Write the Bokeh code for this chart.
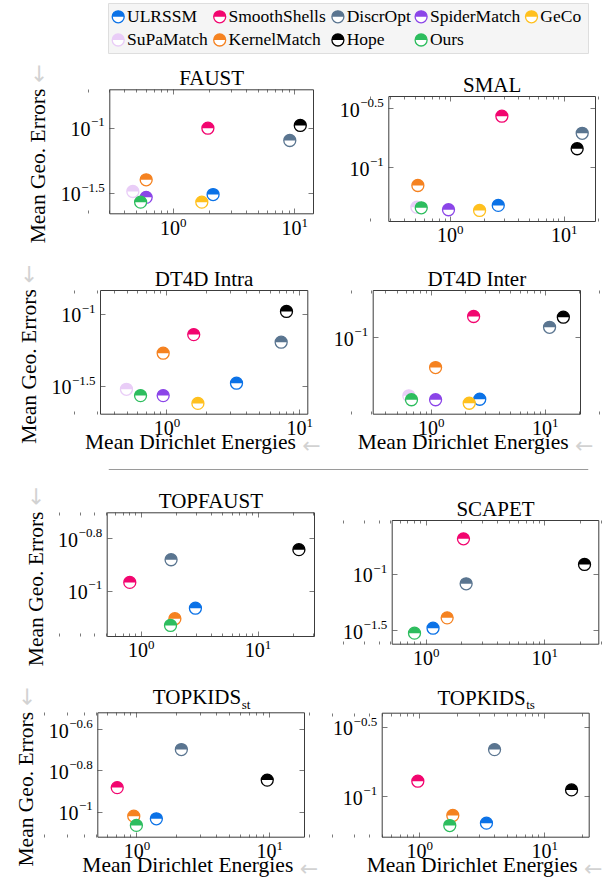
import math
from bokeh.plotting import figure
from bokeh.models import (Range1d, LogAxis, FixedTicker, Label, Span, BoxAnnotation,
                          CustomJSTickFormatter)
from bokeh.layouts import column, row
from bokeh.embed import file_html
from bokeh.resources import INLINE

FONT = "Liberation Serif"
ARROW_FONT = "DejaVu Sans"
FRAME = "#3c3c3c"
TICK = "#7a7a7a"
ARROW = "#d2d2d2"
BASE_FIX = 0.4  # em shift so that the anchor is the alphabetic baseline

# ---------------- data ----------------
methods = ["ULRSSM", "SmoothShells", "DiscrOpt", "SpiderMatch", "GeCo",
           "SuPaMatch", "KernelMatch", "Hope", "Ours"]
method_colors = ["#0B72E7", "#F2056F", "#5A7590", "#8B45E8", "#FFC01E",
                 "#E9CDF7", "#F58220", "#000000", "#2DBD5E"]
top_methods = ["ULRSSM", "SmoothShells", "DiscrOpt", "KernelMatch", "Hope", "Ours"]

faust_energy = [2.13, 1.93, 9.10, 0.60, 1.72, 0.466, 0.60, 11.1, 0.54]
faust_error = [0.0309, 0.100, 0.0804, 0.0294, 0.0270, 0.0326, 0.0401, 0.105, 0.0270]

smal_energy = [2.64, 2.84, 14.4, 0.966, 1.81, 0.51, 0.52, 13.0, 0.557]
smal_error = [0.0480, 0.2735, 0.196, 0.0441, 0.0435, 0.0463, 0.0708, 0.145, 0.0458]

dt4d_intra_energy = [3.34, 1.59, 7.25, 0.936, 1.71, 0.495, 0.936, 7.95, 0.632]
dt4d_intra_error = [0.0332, 0.0724, 0.0641, 0.0272, 0.0240, 0.0301, 0.0537, 0.105, 0.0272]

dt4d_inter_energy = [2.66, 2.35, 10.9, 1.09, 2.15, 0.635, 1.09, 14.4, 0.67]
dt4d_inter_error = [0.0413, 0.136, 0.1164, 0.0410, 0.0390, 0.0434, 0.0652, 0.1346, 0.0410]

topfaust_energy = [2.91, 0.797, 1.80, 1.94, 22.4, 1.78]
topfaust_error = [0.0861, 0.108, 0.1318, 0.0785, 0.144, 0.0740]

scapet_energy = [1.14, 2.06, 2.17, 1.50, 21.7, 0.795]
scapet_error = [0.0332, 0.206, 0.0822, 0.0410, 0.122, 0.0300]

topkids_st_energy = [1.40, 0.71, 2.16, 0.946, 9.58, 0.99]
topkids_st_error = [0.0929, 0.1315, 0.201, 0.0957, 0.143, 0.0863]

topkids_ts_energy = [3.42, 0.966, 3.97, 1.84, 16.4, 1.74]
topkids_ts_error = [0.0643, 0.129, 0.218, 0.0730, 0.1117, 0.0618]

x_tick_exponents = [0, 1]
y_label_text = "Mean Geo. Errors"
x_label_text = "Mean Dirichlet Energies"

color_of = dict(zip(methods, method_colors))

# approximate advance widths (em) of Liberation Serif
CW = {"\u2212": 0.564, ".": 0.25, " ": 0.25, "M": 0.889, "e": 0.444, "a": 0.444,
      "n": 0.5, "G": 0.722, "o": 0.5, "E": 0.611, "r": 0.333, "s": 0.389, "D": 0.722,
      "i": 0.278, "c": 0.444, "h": 0.5, "l": 0.278, "t": 0.278, "g": 0.5}


def text_w(s, px):
    return sum(CW.get(ch, 0.5) for ch in s) * px


def exp_str(e):
    s = ("%g" % abs(e))
    return ("\u2212" + s) if e < 0 else s


def add_label(p, text, x, y, fs, xu="screen", yu="screen", align="left",
              color="#000000", rotated=False, xo=0.0, yo=0.0, font=FONT):
    fix = BASE_FIX * fs
    if rotated:
        xo -= fix
    else:
        yo += fix
    p.add_layout(Label(x=x, y=y, x_units=xu, y_units=yu, text=text,
                       text_font=font, text_font_size="%gpx" % fs, text_align=align,
                       text_baseline="alphabetic", text_color=color,
                       angle=(math.pi / 2 if rotated else 0.0),
                       x_offset=xo, y_offset=yo))


minor_x = [k * 10.0 ** d for d in (-1, 0, 1) for k in range(2, 10)]
blank = CustomJSTickFormatter(code="return ''")


def style_axis(ax):
    ax.axis_line_color = None
    ax.major_tick_in = 5
    ax.major_tick_out = 0
    ax.minor_tick_in = 3
    ax.minor_tick_out = 0
    ax.major_tick_line_color = TICK
    ax.minor_tick_line_color = TICK
    ax.formatter = blank
    ax.major_label_standoff = 0


LAB_FS = 21.5
ARR_FS = 22


def panel(spec):
    ox, oy, w, h = spec["fig"]
    l, t, r, b = spec["frame"]
    xlo, xhi = spec["xlim"]
    ylo, yhi = spec["ylim"]
    kx = (xhi - xlo) / (r - l)
    ky = (yhi - ylo) / (b - t)
    X0 = xlo - (l - ox) * kx
    X1 = xhi + (ox + w - r) * kx
    Y0 = ylo - (oy + h - b) * ky
    Y1 = yhi + (t - oy) * ky
    p = figure(width=w, height=h, x_axis_type="log", y_axis_type="log",
               x_range=Range1d(10 ** X0, 10 ** X1), y_range=Range1d(10 ** Y0, 10 ** Y1),
               x_axis_location=None, y_axis_location=None, min_border=0,
               output_backend="svg", toolbar_location=None)
    p.grid.visible = False
    p.outline_line_color = None
    p.background_fill_color = "white"
    p.border_fill_color = "white"

    def sx(px):
        return px - ox

    def sy(py):
        return oy + h - py

    xt = FixedTicker(ticks=[10.0 ** e for e in x_tick_exponents], minor_ticks=minor_x)
    yt = FixedTicker(ticks=[10.0 ** e for e in spec["yticks"]], minor_ticks=[])
    for loc, fl in (("below", 10 ** ylo), ("above", 10 ** yhi)):
        ax = LogAxis(ticker=xt, fixed_location=fl)
        style_axis(ax)
        p.add_layout(ax, loc)
    for loc, fl in (("left", 10 ** xlo), ("right", 10 ** xhi)):
        ax = LogAxis(ticker=yt, fixed_location=fl)
        style_axis(ax)
        p.add_layout(ax, loc)
    p.add_layout(BoxAnnotation(left=10 ** xlo, right=10 ** xhi, bottom=10 ** ylo,
                               top=10 ** yhi, fill_color=None, fill_alpha=0,
                               line_color=FRAME, line_width=1, line_alpha=1.0))

    # markers: top half coloured, bottom half white
    for m, xv, yv in zip(spec["methods"], spec["energy"], spec["error"]):
        c = color_of[m]
        p.scatter(x=[xv], y=[yv], size=12, marker="circle", fill_color="white",
                  line_color=c, line_width=1.3)
        p.wedge(x=[xv], y=[yv], radius=6, radius_units="screen", start_angle=0,
                end_angle=math.pi, fill_color=c, line_color=None)

    # x tick labels 10^k
    for e in x_tick_exponents:
        v = 10.0 ** e
        if 10 ** xlo <= v <= 10 ** xhi:
            sup = exp_str(e)
            ws = text_w(sup, 13)
            shift = (20 + ws) / 2 - ws
            add_label(p, "10", v, sy(b + 21.7), 20, xu="data", align="right", xo=shift)
            add_label(p, sup, v, sy(b + 14.0), 13, xu="data", align="left", xo=shift)
    # y tick labels
    for e in spec["yticks"]:
        v = 10.0 ** e
        sup = exp_str(e)
        ws = text_w(sup, 13)
        add_label(p, sup, sx(l - 5), v, 13, yu="data", align="right", yo=0.5)
        add_label(p, "10", sx(l - 5 - ws - 0.5), v, 20, yu="data", align="right", yo=-9)

    # title
    cx = (l + r) / 2
    if spec.get("sub"):
        add_label(p, spec["title"], sx(cx + 40), sy(t - 7), 21, align="right")
        add_label(p, spec["sub"], sx(cx + 40.5), sy(t - 3.5), 13, align="left")
    else:
        add_label(p, spec["title"], sx(cx), sy(t - 3), 21, align="center")

    if spec.get("ylabel"):
        start = (t + b) / 2 + 91.5
        tl = text_w(y_label_text, LAB_FS)
        add_label(p, y_label_text, sx(l - 63), sy(start), LAB_FS, align="left", rotated=True)
        add_label(p, "\u2190", sx(l - 63), sy(start - tl - 6), ARR_FS, align="left",
                  rotated=True, color=ARROW, font=ARROW_FONT)
    if spec.get("xlabel"):
        x0 = l - 15.5
        base = b + 36.7
        tl = text_w(x_label_text, LAB_FS)
        add_label(p, x_label_text, sx(x0), sy(base), LAB_FS, align="left")
        add_label(p, "\u2190", sx(x0 + tl + 6), sy(base + 3), ARR_FS, align="left",
                  color=ARROW, font=ARROW_FONT)
    return p


specs = [
    dict(title="FAUST", methods=methods, energy=faust_energy, error=faust_error,
         yticks=[-1.0, -1.5], fig=(0, 60, 322, 192), frame=(109.3, 89.3, 313, 213.3),
         xlim=(-0.521, 1.154), ylim=(-1.658, -0.705), ylabel=True),
    dict(title="SMAL", methods=methods, energy=smal_energy, error=smal_error,
         yticks=[-0.5, -1.0], fig=(322, 60, 282, 192), frame=(388.3, 96, 595, 221),
         xlim=(-0.539, 1.275), ylim=(-1.455, -0.396)),
    dict(title="DT4D Intra", methods=methods, energy=dt4d_intra_energy, error=dt4d_intra_error,
         yticks=[-1.0, -1.5], fig=(0, 252, 322, 210), frame=(100, 290, 307.3, 413.7),
         xlim=(-0.501, 1.061), ylim=(-1.695, -0.833), ylabel=True, xlabel=True),
    dict(title="DT4D Inter", methods=methods, energy=dt4d_inter_energy, error=dt4d_inter_error,
         yticks=[-1.0], fig=(322, 252, 282, 210), frame=(372.7, 290, 580, 413.7),
         xlim=(-0.51, 1.309), ylim=(-1.4775, -0.704), xlabel=True),
    dict(title="TOPFAUST", methods=top_methods, energy=topfaust_energy, error=topfaust_error,
         yticks=[-0.8, -1.0], fig=(0, 478, 322, 190), frame=(106.7, 512.3, 314, 636),
         xlim=(-0.292, 1.484), ylim=(-1.173, -0.701), ylabel=True),
    dict(title="SCAPET", methods=top_methods, energy=scapet_energy, error=scapet_error,
         yticks=[-1.0, -1.5], fig=(322, 478, 282, 190), frame=(391.7, 520, 598.3, 643.7),
         xlim=(-0.288, 1.457), ylim=(-1.621, -0.5235)),
    dict(title="TOPKIDS", sub="st", methods=top_methods, energy=topkids_st_energy,
         error=topkids_st_error, yticks=[-0.6, -0.8, -1.0], fig=(0, 668, 322, 216),
         frame=(97.3, 712.3, 304, 836.7), xlim=(-0.295, 1.262), ylim=(-1.121, -0.519),
         ylabel=True, xlabel=True),
    dict(title="TOPKIDS", sub="ts", methods=top_methods, energy=topkids_ts_energy,
         error=topkids_ts_error, yticks=[-0.5, -1.0], fig=(322, 668, 282, 216),
         frame=(381.7, 712.7, 588.7, 836.7), xlim=(-0.3, 1.356), ylim=(-1.293, -0.399),
         xlabel=True),
]

figs = [panel(s) for s in specs]

# ---------------- legend ----------------
leg = figure(width=604, height=60, x_range=Range1d(108, 588), y_range=Range1d(-53, -3),
             min_border_left=108, min_border_right=16, min_border_top=3, min_border_bottom=7,
             x_axis_type=None, y_axis_type=None, output_backend="svg", toolbar_location=None)
leg.grid.visible = False
leg.background_fill_color = "#f5f5f5"
leg.border_fill_color = "white"
leg.outline_line_color = "#dedede"
leg_cols = [117.7, 219.2, 337.4, 420.6, 531.0]
leg_rows = [16.3, 39.5]
for i, m in enumerate(methods):
    cx = leg_cols[i % 5]
    cy = -leg_rows[i // 5]
    c = color_of[m]
    leg.scatter(x=[cx], y=[cy], size=12, marker="circle", fill_color="white",
                line_color=c, line_width=1.3)
    leg.wedge(x=[cx], y=[cy], radius=6, radius_units="screen", start_angle=0,
              end_angle=math.pi, fill_color=c, line_color=None)
    add_label(leg, m, cx + 8.8, cy - 5.8, 17.5, xu="data", yu="data")

# ---------------- separator ----------------
sep = figure(width=604, height=16, x_range=Range1d(0, 1), y_range=Range1d(0, 1),
             min_border_left=3, min_border_right=4, min_border_top=0, min_border_bottom=0,
             x_axis_type=None, y_axis_type=None,
             output_backend="svg", toolbar_location=None)
sep.grid.visible = False
sep.outline_line_color = None
sep.add_layout(Span(location=0.5625, dimension="width", line_color="#9a9a9a", line_width=1))

layout = column(leg, row(figs[0], figs[1]), row(figs[2], figs[3]), sep,
                row(figs[4], figs[5]), row(figs[6], figs[7]))

open("out.html", "w").write(file_html(layout, INLINE, title="plot"))
